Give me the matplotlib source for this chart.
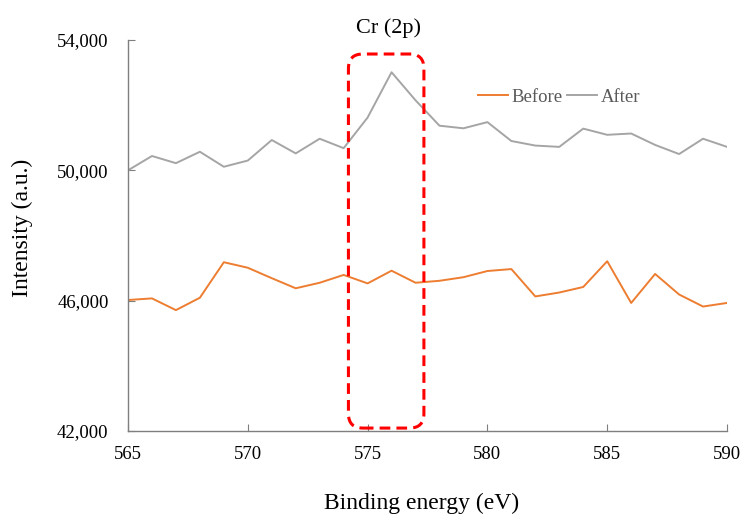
import matplotlib
matplotlib.use("Agg")
import matplotlib.pyplot as plt
from matplotlib.patches import FancyBboxPatch
from matplotlib.ticker import FuncFormatter

energy = list(range(565, 591))
before = [46020, 46070, 45710, 46090, 47180, 47010, 46690, 46380, 46550, 46790,
          46530, 46920, 46550, 46610, 46720, 46910, 46970, 46130, 46250, 46420,
          47210, 45930, 46820, 46190, 45820, 45930]
after = [50000, 50440, 50220, 50570, 50110, 50300, 50930, 50520, 50970, 50680,
         51620, 53010, 52150, 51370, 51290, 51480, 50900, 50760, 50720, 51280,
         51090, 51130, 50780, 50500, 50970, 50720]

# highlighted region (eV range, intensity range)
box_x = (574.2, 577.35)
box_y = (42090, 53570)

plt.rcParams["font.family"] = ["Liberation Serif", "DejaVu Serif"]

W, H = 742, 515
fig = plt.figure(figsize=(W / 100, H / 100), dpi=100)
ax = fig.add_axes([128 / W, 1 - 431 / H, 599 / W, 391 / H])

ax.plot(energy, before, color="#ED7D31", lw=1.4, label="Before")
ax.plot(energy, after, color="#A5A5A5", lw=1.4, label="After")

ax.set_xlim(565, 590)
ax.set_ylim(42000, 54000)
ax.set_xticks([565, 570, 575, 580, 585, 590])
ax.set_yticks([42000, 46000, 50000, 54000])
ax.yaxis.set_major_formatter(FuncFormatter(lambda v, p: f"{int(v):,}"))

for s in ["top", "right"]:
    ax.spines[s].set_visible(False)
for s in ["left", "bottom"]:
    ax.spines[s].set_color("#7F7F7F")
    ax.spines[s].set_linewidth(1.0)
ax.tick_params(direction="in", length=5, color="#7F7F7F", labelsize=13.5)
ax.tick_params(axis="y", pad=14)
ax.tick_params(axis="x", pad=11)

fig.text(388 / W, 1 - 33 / H, "Cr (2p)", fontsize=16, ha="center", va="baseline")
fig.text(22 / W, 1 - 228 / H, "Intensity (a.u.)", fontsize=17, rotation=90,
         ha="center", va="center")
fig.text(422 / W, 1 - 509 / H, "Binding energy (eV)", fontsize=17,
         ha="center", va="baseline")

# y-units per x-unit in screen space
aspect = (12000 / 391) * (599 / 25)
box = FancyBboxPatch((box_x[0], box_y[0]), box_x[1] - box_x[0], box_y[1] - box_y[0],
                     boxstyle="round,pad=0,rounding_size=0.6", mutation_aspect=aspect,
                     fill=False, edgecolor="#FF0000", lw=2.2, ls=(0, (3.5, 2)),
                     clip_on=False, zorder=3)
ax.add_patch(box)

ax.legend(loc="center", bbox_to_anchor=((559 - 128) / 599, (431 - 97) / 391), ncol=2,
          frameon=False, fontsize=13.5, handlelength=1.6, handletextpad=0.2,
          columnspacing=0.25, labelcolor="#595959")

fig.savefig("out.png", dpi=100)
